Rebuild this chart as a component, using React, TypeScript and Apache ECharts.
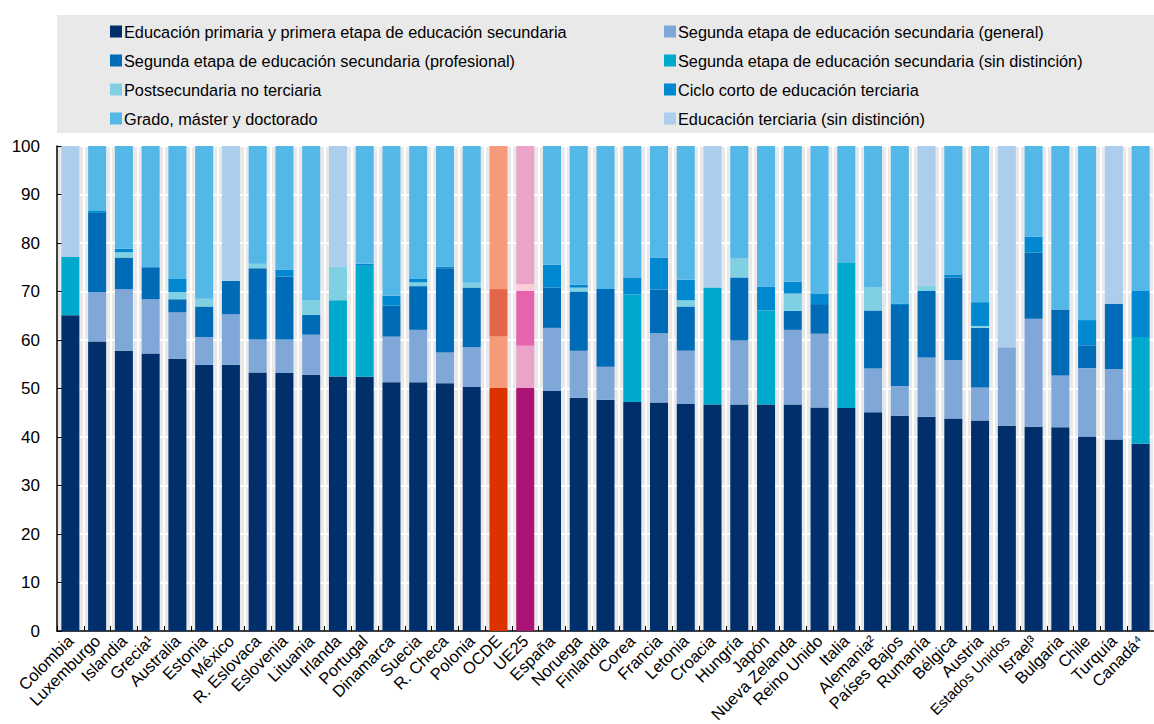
import React, { useEffect, useRef } from "react";
import * as echarts from "echarts";

const categories = [
  "Colombia", "Luxemburgo", "Islandia", "Grecia¹", "Australia", "Estonia", "México", "R. Eslovaca",
  "Eslovenia", "Lituania", "Irlanda", "Portugal", "Dinamarca", "Suecia", "R. Checa", "Polonia",
  "OCDE", "UE25", "España", "Noruega", "Finlandia", "Corea", "Francia", "Letonia", "Croacia",
  "Hungría", "Japón", "Nueva Zelanda", "Reino Unido", "Italia", "Alemania²", "Países Bajos",
  "Rumanía", "Bélgica", "Austria", "Estados Unidos", "Israel³", "Bulgaria", "Chile", "Turquía", "Canadá⁴",
];

const seriesNames = [
  "Educación primaria y primera etapa de educación secundaria",
  "Segunda etapa de educación secundaria (general)",
  "Segunda etapa de educación secundaria (profesional)",
  "Segunda etapa de educación secundaria (sin distinción)",
  "Postsecundaria no terciaria",
  "Ciclo corto de educación terciaria",
  "Grado, máster y doctorado",
  "Educación terciaria (sin distinción)",
];

const primaria = [65.1, 59.7, 57.8, 57.2, 56.1, 54.9, 54.9, 53.3, 53.2, 52.8, 52.5, 52.4, 51.3, 51.3, 51.1, 50.3, 50.1, 50.1, 49.5, 48.1, 47.7, 47.2, 47.1, 46.8, 46.7, 46.7, 46.7, 46.7, 46.1, 46.0, 45.1, 44.4, 44.2, 43.8, 43.4, 42.3, 42.1, 42.0, 40.1, 39.5, 38.6];
const secGeneral = [0, 10.2, 12.7, 11.2, 9.6, 5.7, 10.4, 6.8, 6.9, 8.3, 0, 0, 9.4, 10.8, 6.3, 8.2, 10.7, 8.7, 13.0, 9.7, 6.8, 0, 14.3, 11.0, 0, 13.2, 0, 15.4, 15.2, 0, 9.0, 6.1, 12.2, 12.1, 6.8, 16.2, 22.3, 10.7, 14.1, 14.5, 0];
const secProfesional = [0, 16.3, 6.5, 6.6, 2.7, 6.3, 6.9, 14.7, 13.0, 4.1, 0, 0, 6.4, 9.0, 17.4, 12.3, 9.7, 11.3, 8.3, 12.2, 16.0, 0, 9.0, 9.1, 0, 13.0, 0, 3.9, 6.1, 0, 12.0, 16.7, 13.7, 17.0, 12.3, 0, 13.6, 13.6, 4.7, 13.5, 0];
const secSinDist = [12.0, 0, 0, 0, 0, 0, 0, 0, 0, 0, 15.7, 22.9, 0, 0, 0, 0, 0, 0, 0, 0, 0, 22.2, 0, 0, 24.1, 0, 19.4, 0, 0, 29.9, 0, 0, 0, 0, 0, 0, 0, 0, 0, 0, 22.0];
const postsec = [0, 0, 1.1, 0, 1.5, 1.6, 0, 0.9, 0, 3.0, 6.9, 0, 0, 0.8, 0, 1.0, 0, 1.4, 0, 0.8, 0, 0, 0, 1.3, 0, 3.9, 0, 3.6, 0, 0, 4.7, 0, 1.1, 0, 0.4, 0, 0, 0, 0, 0, 0];
const cicloCorto = [0, 0.4, 0.7, 0, 2.7, 0, 0, 0, 1.4, 0, 0, 0.4, 2.0, 0.7, 0.3, 0, 0, 0, 4.7, 0.6, 0, 3.5, 6.6, 4.2, 0, 0, 4.9, 2.4, 2.2, 0, 0, 0.3, 0, 0.6, 4.9, 0, 3.3, 0, 5.2, 0, 9.5];
const grado = [0, 13.4, 21.2, 25.0, 27.4, 31.5, 0, 24.3, 25.5, 31.8, 0, 24.3, 30.9, 27.4, 24.9, 28.2, 29.5, 28.5, 24.5, 28.6, 29.5, 27.1, 23.0, 27.6, 0, 23.2, 29.0, 28.0, 30.4, 24.1, 29.2, 32.5, 0, 26.5, 32.2, 0, 18.7, 33.7, 35.9, 0, 29.9];
const tercSinDist = [22.9, 0, 0, 0, 0, 0, 27.8, 0, 0, 0, 24.9, 0, 0, 0, 0, 0, 0, 0, 0, 0, 0, 0, 0, 0, 29.2, 0, 0, 0, 0, 0, 0, 0, 28.8, 0, 0, 41.5, 0, 0, 0, 32.5, 0];

const seriesData = [primaria, secGeneral, secProfesional, secSinDist, postsec, cicloCorto, grado, tercSinDist];

const colors = ["#002F6C", "#7FA8D9", "#006BB6", "#00AACC", "#7FD0E3", "#0089D0", "#53B7E8", "#ADCDED"];
const oecdColors = ["#DC3100", "#F69A7A", "#E4664A", "#F69A7A", "#FBC8B5", "#F2825F", "#F69A7A", "#FBD3C2"];
const euColors = ["#AB1477", "#EBA3C9", "#E663AE", "#EBA3C9", "#FFCDD8", "#E97DBB", "#EBA3C9", "#F5CFE3"];

const FONT = "'Liberation Sans', Arial, sans-serif";

export default function App() {
  const ref = useRef<HTMLDivElement>(null);
  useEffect(() => {
    document.body.style.margin = "0";
    if (!ref.current) return;
    const chart = echarts.init(ref.current, undefined, { renderer: "svg" });
    const oecdIdx = categories.indexOf("OCDE");
    const euIdx = categories.indexOf("UE25");
    const series = seriesData.map((arr, si) => ({
      name: seriesNames[si],
      type: "bar",
      stack: "total",
      barWidth: 18,
      itemStyle: { color: colors[si] },
      data: arr.map((v, i) => {
        if (i === oecdIdx) return { value: v, itemStyle: { color: oecdColors[si] } };
        if (i === euIdx) return { value: v, itemStyle: { color: euColors[si] } };
        return v;
      }),
    }));
    const legendCommon = {
      orient: "vertical",
      top: 18,
      itemWidth: 12,
      itemHeight: 12,
      itemGap: 12,
      icon: "rect",
      selectedMode: false,
      textStyle: { fontFamily: FONT, fontSize: 16.3, color: "#000", lineHeight: 17, padding: [0, 0, 0, -3] },
    };
    chart.setOption({
      animation: false,
      textStyle: { fontFamily: FONT },
      graphic: [
        {
          type: "rect",
          shape: { x: 57, y: 15, width: 1097, height: 118 },
          style: { fill: "#e9e9e9" },
          z: -10,
        },
      ],
      legend: [
        { ...legendCommon, left: 105, data: [seriesNames[0], seriesNames[2], seriesNames[4], seriesNames[6]] },
        { ...legendCommon, left: 659, data: [seriesNames[1], seriesNames[3], seriesNames[5], seriesNames[7]] },
      ],
      grid: {
        left: 57,
        right: 0,
        top: 146,
        bottom: 93,
        show: true,
        backgroundColor: "#e9e9e9",
        borderWidth: 0,
        containLabel: false,
        outerBoundsMode: "none",
      },
      xAxis: {
        type: "category",
        data: categories,
        axisLine: { show: true, lineStyle: { color: "#000", width: 1.5 } },
        axisTick: { show: true, inside: true, length: 5, interval: 0, lineStyle: { color: "#000" } },
        splitLine: { show: true, interval: 0, lineStyle: { color: "#fff", width: 2 } },
        axisLabel: {
          interval: 0,
          rotate: 45,
          fontSize: 16.5,
          color: "#000",
          fontFamily: FONT,
          margin: 7,
          formatter: (v: string) => (v === "Estados Unidos" ? "{s|" + v + "}" : v),
          rich: { s: { fontSize: 15, fontFamily: FONT, color: "#000" } },
        },
      },
      yAxis: {
        type: "value",
        min: 0,
        max: 100,
        interval: 10,
        axisLine: { show: true, lineStyle: { color: "#000", width: 1.5 } },
        axisTick: { show: true, inside: true, length: 5, lineStyle: { color: "#000" } },
        splitLine: { show: true, lineStyle: { color: "#fff", width: 2 } },
        axisLabel: { fontSize: 17, color: "#000", fontFamily: FONT, margin: 17 },
      },
      series,
    });
    return () => chart.dispose();
  }, []);
  return <div ref={ref} style={{ width: 1154, height: 724 }} />;
}
